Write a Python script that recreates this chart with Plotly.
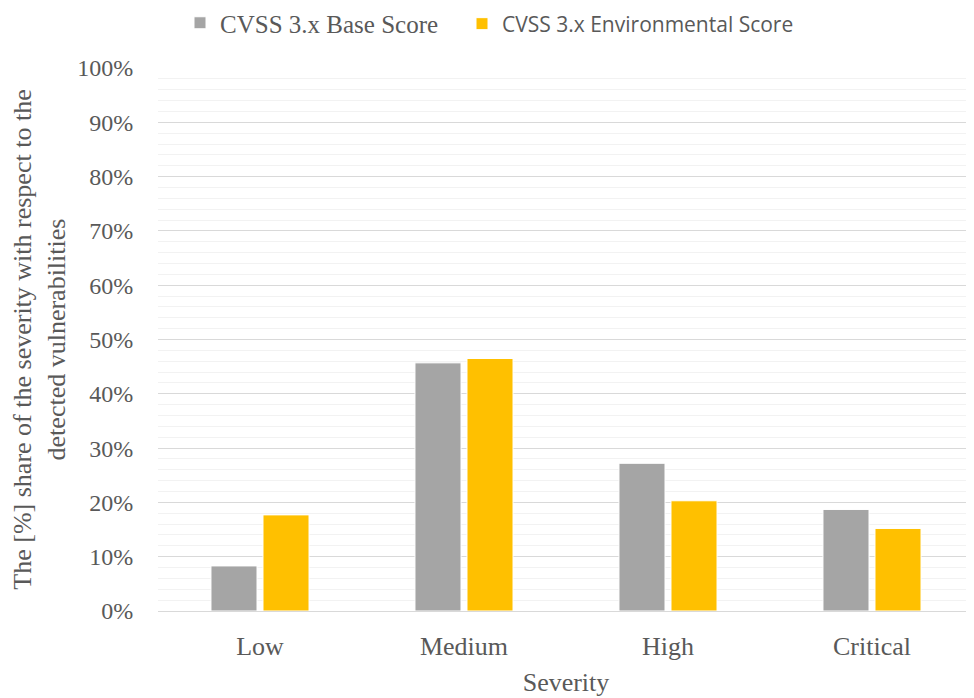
import plotly.graph_objects as go

categories = ["Low", "Medium", "High", "Critical"]
base_score = [0.083, 0.457, 0.272, 0.187]
env_score = [0.177, 0.465, 0.203, 0.152]
series_names = ["CVSS 3.x Base Score", "CVSS 3.x Environmental Score"]
tick_vals = [i / 10 for i in range(11)]

TXT = "#595959"
SERIF = "Liberation Serif, Palatino Linotype, Book Antiqua, serif"
SANS = "Open Sans, Noto Sans, sans-serif"

fig = go.Figure()
fig.add_trace(go.Bar(x=categories, y=base_score, name=series_names[0], legend="legend",
                     showlegend=True,
                     marker=dict(color="#A5A5A5", line=dict(color="#FFFFFF", width=1))))
fig.add_trace(go.Bar(x=categories, y=env_score, name=series_names[1], legend="legend2",
                     showlegend=True,
                     marker=dict(color="#FFC000", line=dict(color="#FFFFFF", width=1))))

fig.update_layout(
    width=974, height=698,
    margin=dict(l=150, r=8, t=60, b=95),
    showlegend=True,
    paper_bgcolor="white", plot_bgcolor="white",
    font=dict(family=SERIF, size=26, color=TXT),
    barmode="group", bargap=0.49, bargroupgap=0.115,
    legend=dict(orientation="h", xref="container", yref="container",
                x=172 / 974, xanchor="left", y=1 - 15 / 698, yanchor="middle",
                bgcolor="rgba(0,0,0,0)",
                font=dict(family=SERIF, size=25, color=TXT), itemwidth=30),
    legend2=dict(orientation="h", xref="container", yref="container",
                 x=454 / 974, xanchor="left", y=1 - 16 / 698, yanchor="middle",
                 bgcolor="rgba(0,0,0,0)",
                 font=dict(family=SANS, size=21, color=TXT), itemwidth=30),
    xaxis=dict(showline=True, linecolor="#D9D9D9", linewidth=1, showgrid=False,
               automargin=False, ticks="outside", ticklen=12, tickcolor="rgba(0,0,0,0)",
               tickfont=dict(size=26),
               title=dict(text="Severity", font=dict(size=26), standoff=12)),
    yaxis=dict(range=[0, 1], tickvals=tick_vals, tickformat=".0%",
               automargin=False,
               showgrid=True, gridcolor="#D9D9D9", gridwidth=1,
               zeroline=False,
               minor=dict(dtick=0.02, showgrid=True, gridcolor="#F2F2F2", gridwidth=1),
               ticks="outside", ticklen=19, tickcolor="rgba(0,0,0,0)",
               tickfont=dict(size=24),
               title=dict(text="The [%] share of the severity with respect to the<br>detected vulnerabilities",
                          font=dict(size=26), standoff=8)),
)

fig.write_html("out.html")
